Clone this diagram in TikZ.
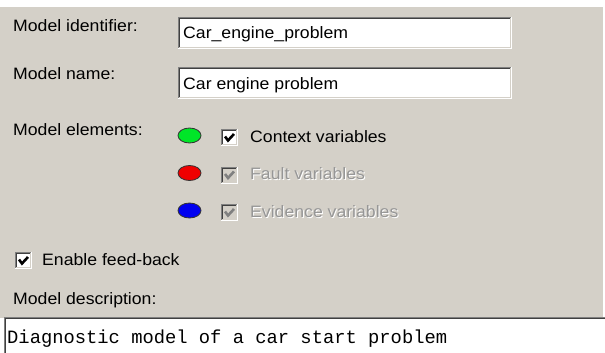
\documentclass[tikz,border=0pt]{standalone}
\usepackage{fontspec}
\setmainfont{Liberation Sans}[FakeStretch=1.07]
\newfontfamily\monofont{Liberation Mono}
\definecolor{panel}{RGB}{212,208,200}
\definecolor{edgegray}{RGB}{128,128,128}
\definecolor{edgedark}{RGB}{64,64,64}
\definecolor{dimtext}{RGB}{150,150,150}
\definecolor{ledgreen}{RGB}{0,230,40}
\definecolor{ledred}{RGB}{240,0,0}
\definecolor{ledblue}{RGB}{0,0,240}

% sunken Windows-style frame: x1, y1, x2, y2, fill
\newcommand\sunkenframe[5]{%
  \fill[#5] (#1,#2) rectangle (#3,#4);
  \draw[edgegray, line width=1pt] (#1+0.5,#4-1) |- (#3-1,#2+0.5);
  \draw[white, line width=1pt] (#1,#4-0.5) -| (#3-0.5,#2);
  \draw[edgedark, line width=1pt] (#1+1.5,#4-2) |- (#3-2,#2+1.5);
  \draw[panel, line width=1pt] (#1+1,#4-1.5) -| (#3-1.5,#2+1);
}
% check box: x, y of top-left corner, fill, tick colour
\newcommand\tickbox[4]{%
  \sunkenframe{#1}{#2}{#1+17}{#2+17}{#3}
  \draw[#4, line width=2.6pt, line join=miter]
    (#1+4,#2+7.5) -- (#1+7,#2+11.5) -- (#1+13,#2+5);
}

\tikzset{
  label/.style={anchor=base west, inner sep=0pt, text=black,
    font=\fontsize{16.5}{18}\selectfont},
  dimlabel/.style={label, text=dimtext},
  dimshade/.style={label, text=white},
  led/.style={draw=black!80, line width=0.8pt},
  desc/.style={anchor=base west, inner sep=0pt, text=black,
    font=\monofont\fontsize{18.8}{20}\selectfont},
}

\begin{document}
\begin{tikzpicture}[x=1pt, y=-1pt]
\useasboundingbox (0,0) rectangle (605,353);
\fill[white] (0,0) rectangle (605,353);
\fill[panel] (0,7) rectangle (603,318);

% identifier and name
\node[label] (idlabel) at (13,32) {Model identifier:};
\sunkenframe{178}{17}{512}{49}{white}
\node[label] (idvalue) at (183,39) {Car\_engine\_problem};

\node[label] (namelabel) at (13,80) {Model name:};
\sunkenframe{178}{67}{512}{99}{white}
\node[label] (namevalue) at (183,89) {Car engine problem};

% model elements
\node[label] (elemlabel) at (13,135) {Model elements:};

\fill[ledgreen, led] (189.5,135.5) ellipse [x radius=11.5, y radius=7.5];
\tickbox{221}{129}{white}{black}
\node[label] (context) at (250,142) {Context variables};

\fill[ledred, led] (189.5,173) ellipse [x radius=11.5, y radius=7.5];
\tickbox{221}{166.5}{panel}{edgegray}
\node[dimshade] (faultshade) at (251,180.5) {Fault variables};
\node[dimlabel] (fault) at (250,179.5) {Fault variables};

\fill[ledblue, led] (189.5,210.5) ellipse [x radius=11.5, y radius=7.5];
\tickbox{221}{204}{panel}{edgegray}
\node[dimshade] (evidenceshade) at (251,218) {Evidence variables};
\node[dimlabel] (evidence) at (250,217) {Evidence variables};

% feedback option
\tickbox{15}{252}{white}{black}
\node[label] (feedback) at (42,265) {Enable feed-back};

% description
\node[label] (desclabel) at (13,304) {Model description:};
\sunkenframe{4}{317}{612}{362}{white}
\node[desc] (descvalue) at (7,343) {Diagnostic model of a car start problem};
\end{tikzpicture}
\end{document}
